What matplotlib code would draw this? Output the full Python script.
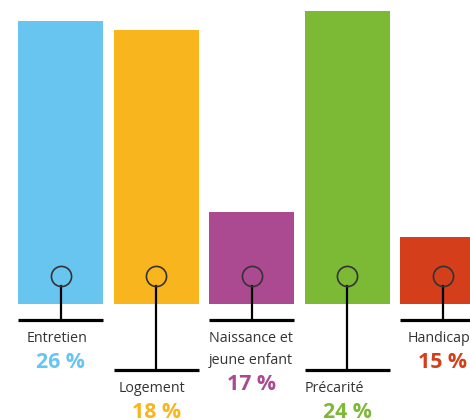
import matplotlib.pyplot as plt

# --- Données ---
categories = ["Entretien", "Logement", "Naissance et\njeune enfant", "Précarité", "Handicap"]
montants = [283, 274, 92, 293, 67]          # hauteur relative des barres
pourcentages = [26, 18, 17, 24, 15]
couleurs = ["#68C5F0", "#F9B51E", "#AB4A90", "#7CB935", "#D53E1A"]
niveau_etiquette = [0, 1, 0, 1, 0]          # 0 = étiquette haute, 1 = étiquette basse

plt.rcParams['font.family'] = ['Open Sans', 'DejaVu Sans']

fig = plt.figure(figsize=(4.7, 4.2), dpi=100)
ax = fig.add_axes([0, 0, 1, 1])
ax.set_xlim(-0.633, 4.283)
ax.set_ylim(-116, 304)
ax.axis('off')

largeur = 0.89
x = list(range(len(categories)))
ax.bar(x, montants, width=largeur, color=couleurs, zorder=1)

y_trait = [-16, -66]
for i, cat in enumerate(categories):
    niv = niveau_etiquette[i]
    yl = y_trait[niv]
    # tige + rond
    ax.plot([i, i], [18, yl], color="black", lw=1.6, zorder=2)
    ax.plot(i, 28, marker='o', markersize=14.5, markerfacecolor='none',
            markeredgecolor='#333333', markeredgewidth=1.2, zorder=3)
    # trait horizontal
    ax.plot([i - largeur / 2, i + largeur / 2], [yl, yl], color="black",
            lw=2.3, solid_capstyle='butt', zorder=2)

    lignes = cat.split("\n")
    # Précarité et Naissance : texte aligné à gauche sur la barre
    if len(lignes) > 1 or cat == "Précarité":
        xt, ha = i - largeur / 2, 'left'
    else:
        xt, ha = i - 0.04, 'center'
    for k, lig in enumerate(lignes):
        ax.text(xt, yl - 18 - 22 * k, lig, ha=ha, va='center', fontsize=10.3,
                color="#333333")
    ypct = yl - 18 - 22 * (len(lignes) - 1) - 24
    ax.text(i, ypct, f"{pourcentages[i]} %", ha='center', va='center',
            fontsize=15.3, fontweight='bold', color=couleurs[i])

fig.savefig("out.png", dpi=100)
